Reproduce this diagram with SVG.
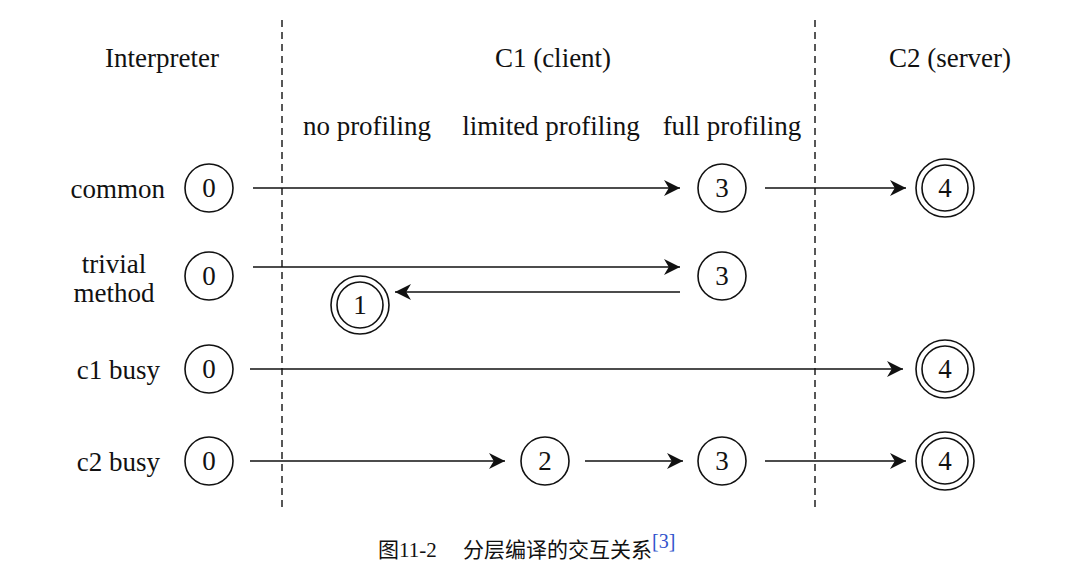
<svg xmlns="http://www.w3.org/2000/svg" width="1074" height="566" viewBox="0 0 1074 566">
<style>
text{font-family:"Liberation Serif",serif;font-size:27px;fill:#111}
.n text{text-anchor:middle}
circle{fill:none;stroke:#111;stroke-width:1.6}
.c line{stroke:#111;stroke-width:1.5}
.d{stroke:#111;stroke-width:1.4;stroke-dasharray:7,5}
</style>
<defs><marker id="a" viewBox="0 0 10 10" refX="10" refY="5" markerWidth="16" markerHeight="16" markerUnits="userSpaceOnUse" orient="auto"><path d="M0,0L10,5L0,10L3,5z" fill="#111"/></marker></defs>
<rect width="1074" height="566" fill="#fff"/>
<line class="d" x1="282" y1="20" x2="282" y2="508"/>
<line class="d" x1="815" y1="20" x2="815" y2="508"/>
<text x="162" y="67" text-anchor="middle">Interpreter</text>
<text x="553" y="67" text-anchor="middle">C1 (client)</text>
<text x="950" y="67" text-anchor="middle">C2 (server)</text>
<text x="367" y="135" text-anchor="middle">no profiling</text>
<text x="551" y="135" text-anchor="middle">limited profiling</text>
<text x="732" y="135" text-anchor="middle">full profiling</text>
<text x="165" y="198" text-anchor="end">common</text>
<text x="114" y="273" text-anchor="middle">trivial</text>
<text x="114" y="302" text-anchor="middle">method</text>
<text x="160" y="379" text-anchor="end">c1 busy</text>
<text x="160" y="471" text-anchor="end">c2 busy</text>
<g class="c">
<line x1="253" y1="188" x2="680" y2="188" marker-end="url(#a)"/>
<line x1="765" y1="188" x2="906" y2="188" marker-end="url(#a)"/>
<line x1="253" y1="267" x2="680" y2="267" marker-end="url(#a)"/>
<line x1="680" y1="292" x2="395" y2="292" marker-end="url(#a)"/>
<line x1="250" y1="369" x2="903" y2="369" marker-end="url(#a)"/>
<line x1="250" y1="461" x2="505" y2="461" marker-end="url(#a)"/>
<line x1="585" y1="461" x2="683" y2="461" marker-end="url(#a)"/>
<line x1="765" y1="461" x2="906" y2="461" marker-end="url(#a)"/>
</g>
<g id="r1n0" class="n"><circle cx="209" cy="188" r="24"/><text x="209" y="197">0</text></g>
<g id="r1n3" class="n"><circle cx="722" cy="188" r="24"/><text x="722" y="197">3</text></g>
<g id="r1n4" class="n"><circle cx="945" cy="188" r="29"/><circle cx="945" cy="188" r="23"/><text x="945" y="197">4</text></g>
<g id="r2n0" class="n"><circle cx="209" cy="276" r="24"/><text x="209" y="285">0</text></g>
<g id="r2n3" class="n"><circle cx="722" cy="276" r="24"/><text x="722" y="285">3</text></g>
<g id="r2n1" class="n"><circle cx="360" cy="305" r="29"/><circle cx="360" cy="305" r="23"/><text x="360" y="314">1</text></g>
<g id="r3n0" class="n"><circle cx="209" cy="369" r="24"/><text x="209" y="378">0</text></g>
<g id="r3n4" class="n"><circle cx="945" cy="369" r="29"/><circle cx="945" cy="369" r="23"/><text x="945" y="378">4</text></g>
<g id="r4n0" class="n"><circle cx="209" cy="461" r="24"/><text x="209" y="470">0</text></g>
<g id="r4n2" class="n"><circle cx="545" cy="461" r="24"/><text x="545" y="470">2</text></g>
<g id="r4n3" class="n"><circle cx="722" cy="461" r="24"/><text x="722" y="470">3</text></g>
<g id="r4n4" class="n"><circle cx="945" cy="461" r="29"/><circle cx="945" cy="461" r="23"/><text x="945" y="470">4</text></g>
<text x="378" y="557" style="font-family:'Liberation Serif','Noto Sans CJK SC',serif;font-size:21px">图11-2　 分层编译的交互关系<tspan dy="-9" font-size="20" fill="#3355cc">[3]</tspan></text>
</svg>
